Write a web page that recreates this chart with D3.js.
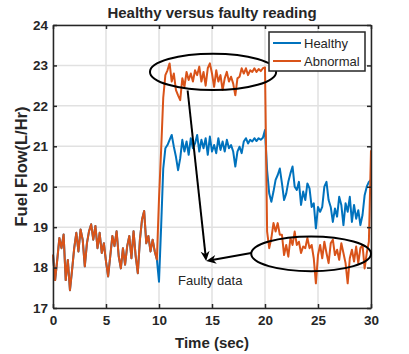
<!DOCTYPE html>
<html>
<head>
<meta charset="utf-8">
<script src="https://cdn.jsdelivr.net/npm/d3@7"></script>
<style>
  body { margin: 0; background: #fff; }
  text { font-family: "Liberation Sans", Arial, sans-serif; fill: #262626; }
  .axis path, .axis line { stroke: #262626; stroke-width: 1.5; }
  .axis text { font-size: 13.5px; font-weight: bold; }
  .grid line { stroke: #e1e1e1; stroke-width: 1.5; }
</style>
</head>
<body>
<div id="chart"></div>
<script>
// samples every 0.2 s
var step = 0.2;

// 0 - 9.8 s, both readings are the same here
var startFlow = [18.32, 17.69, 18.19, 18.73, 18.48, 18.82, 17.69, 18.19, 17.44, 17.94,
  18.48, 18.86, 18.4, 18.94, 18.69, 18.03, 18.6, 18.9, 19.07, 18.69,
  19.03, 18.48, 18.86, 18.36, 18.6, 18.15, 17.78, 18.28, 18.78, 18.53,
  18.9, 18.28, 17.98, 18.48, 18.07, 18.53, 18.78, 18.23, 18.9, 18.28,
  17.86, 18.69, 19.19, 19.4, 18.6, 18.78, 18.4, 18.69, 18.4, 18.2];

// 10 - 30 s
var healthyFlow = [17.65, 19.0, 20.45, 20.95, 21.03, 21.16, 21.28, 20.99, 20.74, 20.41,
  20.7, 21.16, 20.87, 21.12, 20.79, 21.2, 20.95, 21.07, 21.28, 20.87,
  21.16, 20.95, 21.2, 20.79, 21.24, 20.87, 21.03, 20.83, 21.2, 20.91,
  21.12, 20.87, 21.16, 20.95, 21.03, 20.87, 20.5, 20.87, 20.99, 20.83,
  21.12, 21.2, 21.07, 21.16, 21.12, 21.2, 21.13, 21.2, 21.16, 21.21,
  21.4, 20.4, 19.83, 19.63, 19.88, 20.17, 20.29, 20.45, 20.08, 19.67,
  19.83, 20.12, 20.33, 20.5, 20.0, 19.92, 20.12, 19.55, 19.88, 19.67,
  20.08, 19.96, 19.5, 19.59, 18.97, 19.5, 19.38, 19.5, 20.0, 20.12,
  19.67, 19.5, 19.13, 19.46, 19.26, 19.75, 19.55, 19.05, 19.59, 19.38,
  19.75, 19.13, 19.55, 19.21, 19.42, 19.05, 19.3, 19.79, 20.0, 20.12,
  20.17];

var abnormalFlow = [19.7, 20.9, 22.2, 22.76, 22.88, 23.05, 22.6, 22.8, 22.39, 22.26,
  22.14, 22.68, 22.47, 22.84, 22.64, 22.8, 22.6, 22.88, 22.76, 22.97,
  22.6, 22.84, 22.5, 22.93, 23.05, 22.8, 22.47, 22.88, 22.6, 22.76,
  22.39, 22.68, 22.84, 22.6, 22.72, 22.55, 22.26, 22.68, 22.72, 22.93,
  22.8, 22.93, 22.76, 22.88, 22.84, 22.93, 22.84, 22.91, 22.86, 22.93,
  22.95, 18.89, 18.48, 18.73, 19.1, 18.89, 19.1, 18.81, 18.81, 18.31,
  18.56, 18.27, 18.73, 18.56, 18.89, 18.56, 18.64, 18.36, 18.52, 18.48,
  18.73, 18.48, 18.56, 18.23, 17.61, 18.31, 18.56, 18.23, 18.64, 18.36,
  18.11, 18.6, 18.69, 18.31, 18.44, 18.19, 18.6, 18.36, 18.11, 17.61,
  18.23, 18.44, 18.15, 18.52, 18.11, 18.48, 18.56, 17.98, 18.36, 18.64,
  20.9];

var seriesNames = ['Healthy', 'Abnormal'];
var seriesColors = ['#0072BD', '#D95319'];
var xTicks = [0, 5, 10, 15, 20, 25, 30];
var yTicks = [17, 18, 19, 20, 21, 22, 23, 24];

// annotation spots, in data units
var topEllipse = {t: 15.1, v: 22.84, rt: 5.95, rv: 0.45};
var lowEllipse = {t: 24.35, v: 18.34, rt: 5.65, rv: 0.43};
var arrowTip = {t: 14.45, v: 18.16};
var arrowFrom = [{t: 12.7, v: 22.38}, {t: 18.7, v: 18.36}];
var noteText = {t: 11.8, v: 17.56, label: 'Faulty data'};

var margin = {top: 25, right: 38, bottom: 46, left: 53};
var width = 409 - margin.left - margin.right;
var height = 354 - margin.top - margin.bottom;

var x = d3.scaleLinear().domain([0, 30]).range([0, width]);
var y = d3.scaleLinear().domain([17, 24]).range([height, 0]);

var root = d3.select('#chart').append('svg')
  .attr('width', 409)
  .attr('height', 354);

var svg = root.append('g')
  .attr('transform', 'translate(' + margin.left + ',' + margin.top + ')');

// grid
var grid = svg.append('g').attr('class', 'grid');
grid.selectAll('.gx').data(xTicks).enter().append('line')
  .attr('x1', function (d) { return x(d); })
  .attr('x2', function (d) { return x(d); })
  .attr('y1', 0).attr('y2', height);
grid.selectAll('.gy').data(yTicks).enter().append('line')
  .attr('y1', function (d) { return y(d); })
  .attr('y2', function (d) { return y(d); })
  .attr('x1', 0).attr('x2', width);

function toPoints(values, t0) {
  return values.map(function (v, i) { return [t0 + i * step, v]; });
}

var healthy = toPoints(startFlow, 0).concat(toPoints(healthyFlow, 10));
var abnormal = toPoints(startFlow, 0).concat(toPoints(abnormalFlow, 10));

var line = d3.line()
  .x(function (d) { return x(d[0]); })
  .y(function (d) { return y(d[1]); });

svg.selectAll('.series').data([healthy, abnormal]).enter().append('path')
  .attr('class', 'series')
  .attr('d', line)
  .attr('fill', 'none')
  .attr('stroke', function (d, i) { return seriesColors[i]; })
  .attr('stroke-width', 2)
  .attr('stroke-linejoin', 'round');

// axes, ticks point inward on all four sides
var fmt = d3.format('d');
svg.append('g').attr('class', 'axis')
  .attr('transform', 'translate(0,' + height + ')')
  .call(d3.axisBottom(x).tickValues(xTicks).tickFormat(fmt).tickSizeInner(-4).tickSizeOuter(0).tickPadding(7));
svg.append('g').attr('class', 'axis')
  .call(d3.axisTop(x).tickValues(xTicks).tickSizeInner(-4).tickSizeOuter(0).tickFormat(''));
svg.append('g').attr('class', 'axis')
  .call(d3.axisLeft(y).tickValues(yTicks).tickFormat(fmt).tickSizeInner(-4).tickSizeOuter(0).tickPadding(5));
svg.append('g').attr('class', 'axis')
  .attr('transform', 'translate(' + width + ',0)')
  .call(d3.axisRight(y).tickValues(yTicks).tickSizeInner(-4).tickSizeOuter(0).tickFormat(''));

svg.selectAll('.axis text').attr('fill', '#262626');

// annotations
[topEllipse, lowEllipse].forEach(function (e) {
  svg.append('ellipse')
    .attr('cx', x(e.t))
    .attr('cy', y(e.v))
    .attr('rx', x(e.rt) - x(0))
    .attr('ry', y(0) - y(e.rv))
    .attr('fill', 'none')
    .attr('stroke', '#000')
    .attr('stroke-width', 2);
});

svg.append('text')
  .attr('x', x(noteText.t))
  .attr('y', y(noteText.v))
  .style('font-size', '13px')
  .text(noteText.label);

arrowFrom.forEach(function (a) {
  var x1 = x(a.t), y1 = y(a.v), x2 = x(arrowTip.t), y2 = y(arrowTip.v);
  var ang = Math.atan2(y2 - y1, x2 - x1);
  var len = 10, half = 4.5;
  svg.append('line')
    .attr('x1', x1).attr('y1', y1)
    .attr('x2', x2 - Math.cos(ang) * 6).attr('y2', y2 - Math.sin(ang) * 6)
    .attr('stroke', '#000')
    .attr('stroke-width', 2);
  var bx = x2 - Math.cos(ang) * len, by = y2 - Math.sin(ang) * len;
  var nx = x2 - Math.cos(ang) * len * 0.7, ny = y2 - Math.sin(ang) * len * 0.7;
  var px = -Math.sin(ang) * half, py = Math.cos(ang) * half;
  svg.append('path')
    .attr('d', 'M' + x2 + ',' + y2 + 'L' + (bx + px) + ',' + (by + py) +
      'L' + nx + ',' + ny + 'L' + (bx - px) + ',' + (by - py) + 'Z')
    .attr('fill', '#000');
});

// legend
var legend = svg.append('g')
  .attr('transform', 'translate(' + (width - 102) + ',7)');
legend.append('rect')
  .attr('width', 96).attr('height', 39)
  .attr('fill', '#fff')
  .attr('stroke', '#262626')
  .attr('stroke-width', 1.5);
seriesNames.forEach(function (name, i) {
  legend.append('line')
    .attr('x1', 4).attr('x2', 32)
    .attr('y1', 11 + i * 18).attr('y2', 11 + i * 18)
    .attr('stroke', seriesColors[i])
    .attr('stroke-width', 2);
  legend.append('text')
    .attr('x', 35).attr('y', 11 + i * 18)
    .attr('dy', '0.35em')
    .style('font-size', '13px')
    .text(name);
});

// titles
root.append('text')
  .attr('x', margin.left + width / 2)
  .attr('y', 18)
  .attr('text-anchor', 'middle')
  .style('font-size', '15px')
  .style('font-weight', 'bold')
  .text('Healthy versus faulty reading');

root.append('text')
  .attr('x', margin.left + width / 2)
  .attr('y', 348)
  .attr('text-anchor', 'middle')
  .style('font-size', '15px')
  .style('font-weight', 'bold')
  .text('Time (sec)');

root.append('text')
  .attr('transform', 'translate(27,' + (margin.top + height / 2) + ') rotate(-90)')
  .attr('text-anchor', 'middle')
  .style('font-size', '16.5px')
  .style('font-weight', 'bold')
  .text('Fuel Flow(L/Hr)');
</script>
</body>
</html>
